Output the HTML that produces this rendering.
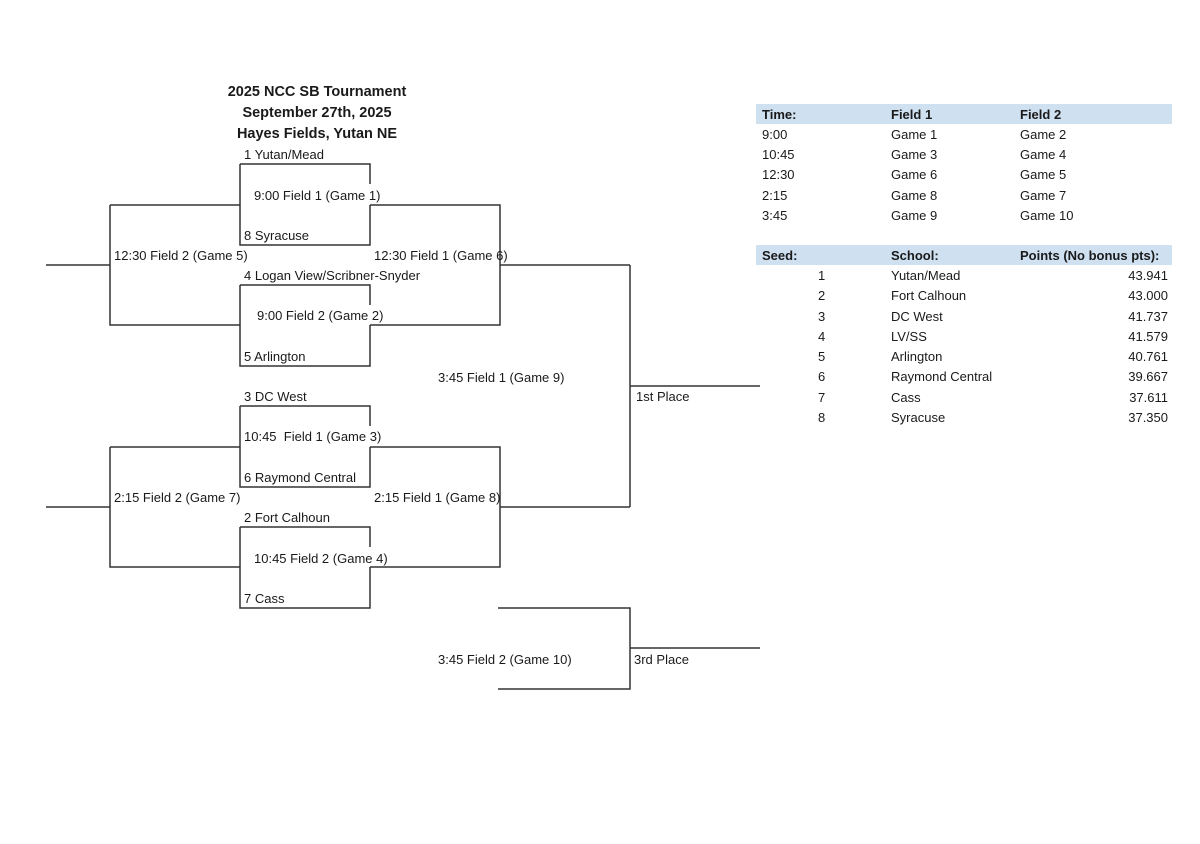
<!DOCTYPE html>
<html><head><meta charset="utf-8"><style>
body{margin:0;background:#fff;width:1200px;height:844px;position:relative;overflow:hidden;font-family:"Liberation Sans",sans-serif;color:#1a1a1a;font-size:13px}
.t{position:absolute;white-space:nowrap;line-height:16px}
.b{font-weight:bold}
.band{position:absolute;background:#cfe0f1;left:756px;width:416px;height:20px}
.r{text-align:right}
</style></head><body>
<svg width="1200" height="844" style="position:absolute;left:0;top:0" stroke="#333" stroke-width="1.5" fill="none">
<path d="M240 164H370V184M370 205V245H240V164"/>
<path d="M110 205H240M110 205V325H240M46 265H110"/>
<path d="M370 205H500V325H370M500 265H630"/>
<path d="M240 285H370V305M370 325V366H240V285"/>
<path d="M240 406H370V426M370 447V487H240V406"/>
<path d="M110 447H240M110 447V567H240M46 507H110"/>
<path d="M370 447H500V567H370M500 507H630"/>
<path d="M240 527H370V547M370 567V608H240V527"/>
<path d="M630 265V507M630 386H760"/>
<path d="M498 608H630V689H498M630 648H760"/>
</svg>
<div class="t b" style="left:197px;width:240px;text-align:center;top:82px;font-size:14.5px;line-height:21px">2025 NCC SB Tournament<br>September 27th, 2025<br>Hayes Fields, Yutan NE</div>
<div class="t" style="left:244px;top:147px">1 Yutan/Mead</div>
<div class="t" style="left:254px;top:188px">9:00 Field 1 (Game 1)</div>
<div class="t" style="left:244px;top:228px">8 Syracuse</div>
<div class="t" style="left:114px;top:248px">12:30 Field 2 (Game 5)</div>
<div class="t" style="left:374px;top:248px">12:30 Field 1 (Game 6)</div>
<div class="t" style="left:244px;top:268px">4 Logan View/Scribner-Snyder</div>
<div class="t" style="left:257px;top:308px">9:00 Field 2 (Game 2)</div>
<div class="t" style="left:244px;top:349px">5 Arlington</div>
<div class="t" style="left:438px;top:370px">3:45 Field 1 (Game 9)</div>
<div class="t" style="left:636px;top:389px">1st Place</div>
<div class="t" style="left:244px;top:389px">3 DC West</div>
<div class="t" style="left:244px;top:429px">10:45&nbsp; Field 1 (Game 3)</div>
<div class="t" style="left:244px;top:470px">6 Raymond Central</div>
<div class="t" style="left:114px;top:490px">2:15 Field 2 (Game 7)</div>
<div class="t" style="left:374px;top:490px">2:15 Field 1 (Game 8)</div>
<div class="t" style="left:244px;top:510px">2 Fort Calhoun</div>
<div class="t" style="left:254px;top:551px">10:45 Field 2 (Game 4)</div>
<div class="t" style="left:244px;top:591px">7 Cass</div>
<div class="t" style="left:438px;top:652px">3:45 Field 2 (Game 10)</div>
<div class="t" style="left:634px;top:652px">3rd Place</div>

<div class="band" style="top:104px"></div>
<div class="t b" style="left:762px;top:107px">Time:</div>
<div class="t b" style="left:891px;top:107px">Field 1</div>
<div class="t b" style="left:1020px;top:107px">Field 2</div>
<div class="t" style="left:762px;top:127px">9:00</div><div class="t" style="left:891px;top:127px">Game 1</div><div class="t" style="left:1020px;top:127px">Game 2</div>
<div class="t" style="left:762px;top:147px">10:45</div><div class="t" style="left:891px;top:147px">Game 3</div><div class="t" style="left:1020px;top:147px">Game 4</div>
<div class="t" style="left:762px;top:167px">12:30</div><div class="t" style="left:891px;top:167px">Game 6</div><div class="t" style="left:1020px;top:167px">Game 5</div>
<div class="t" style="left:762px;top:188px">2:15</div><div class="t" style="left:891px;top:188px">Game 8</div><div class="t" style="left:1020px;top:188px">Game 7</div>
<div class="t" style="left:762px;top:208px">3:45</div><div class="t" style="left:891px;top:208px">Game 9</div><div class="t" style="left:1020px;top:208px">Game 10</div>

<div class="band" style="top:245px"></div>
<div class="t b" style="left:762px;top:248px">Seed:</div>
<div class="t b" style="left:891px;top:248px">School:</div>
<div class="t b" style="left:1020px;top:248px">Points (No bonus pts):</div>
<div class="t" style="left:818px;top:268px">1</div><div class="t" style="left:891px;top:268px">Yutan/Mead</div><div class="t r" style="left:1068px;width:100px;top:268px">43.941</div>
<div class="t" style="left:818px;top:288px">2</div><div class="t" style="left:891px;top:288px">Fort Calhoun</div><div class="t r" style="left:1068px;width:100px;top:288px">43.000</div>
<div class="t" style="left:818px;top:309px">3</div><div class="t" style="left:891px;top:309px">DC West</div><div class="t r" style="left:1068px;width:100px;top:309px">41.737</div>
<div class="t" style="left:818px;top:329px">4</div><div class="t" style="left:891px;top:329px">LV/SS</div><div class="t r" style="left:1068px;width:100px;top:329px">41.579</div>
<div class="t" style="left:818px;top:349px">5</div><div class="t" style="left:891px;top:349px">Arlington</div><div class="t r" style="left:1068px;width:100px;top:349px">40.761</div>
<div class="t" style="left:818px;top:369px">6</div><div class="t" style="left:891px;top:369px">Raymond Central</div><div class="t r" style="left:1068px;width:100px;top:369px">39.667</div>
<div class="t" style="left:818px;top:390px">7</div><div class="t" style="left:891px;top:390px">Cass</div><div class="t r" style="left:1068px;width:100px;top:390px">37.611</div>
<div class="t" style="left:818px;top:410px">8</div><div class="t" style="left:891px;top:410px">Syracuse</div><div class="t r" style="left:1068px;width:100px;top:410px">37.350</div>
</body></html>
